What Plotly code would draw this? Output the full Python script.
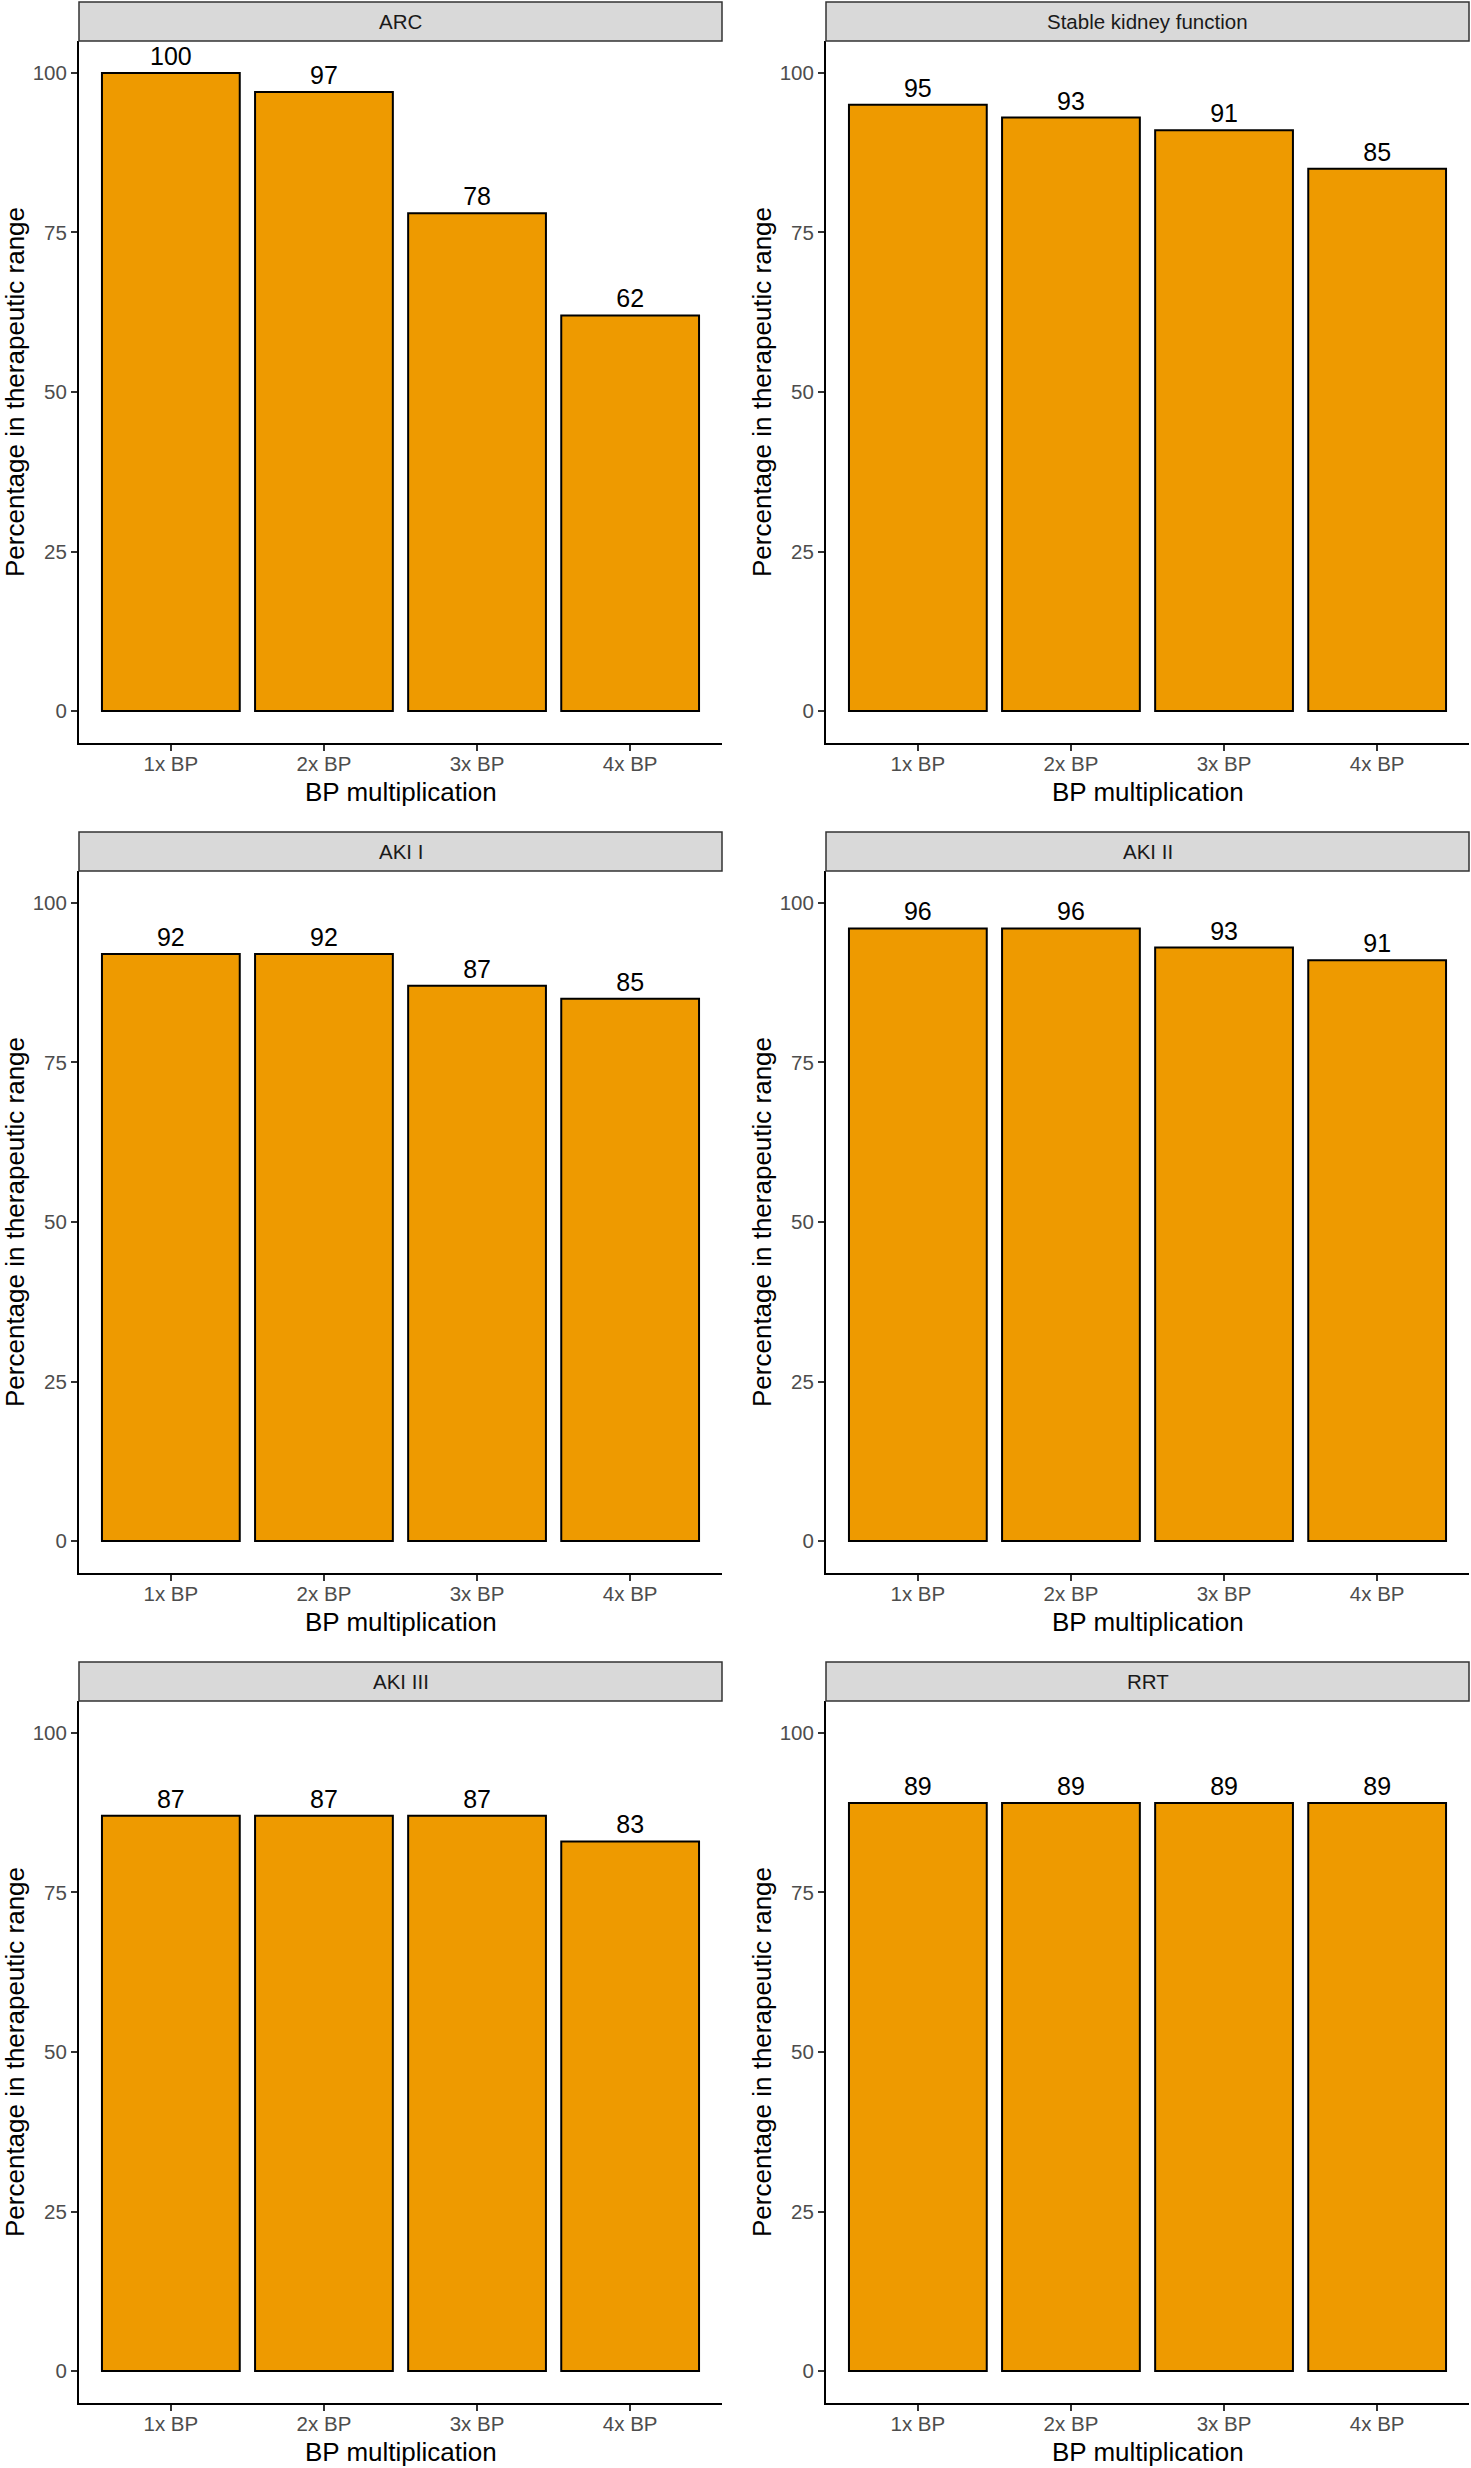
import plotly.graph_objects as go

W, H = 1471, 2468

categories = ["1x BP", "2x BP", "3x BP", "4x BP"]
panel_titles = ["ARC", "Stable kidney function", "AKI I", "AKI II", "AKI III", "RRT"]
arc = [100, 97, 78, 62]
stable = [95, 93, 91, 85]
aki1 = [92, 92, 87, 85]
aki2 = [96, 96, 93, 91]
aki3 = [87, 87, 87, 83]
rrt = [89, 89, 89, 89]
y_ticks = [0, 25, 50, 75, 100]
x_title = "BP multiplication"
y_title = "Percentage in therapeutic range"

series = [arc, stable, aki1, aki2, aki3, rrt]

FONT = "Liberation Sans, Arial, sans-serif"
BAR_FILL = "#EE9A00"

col_px = [(79, 722), (826, 1469)]
row_top0, row_bot0, strip_top0 = 41, 743, 2
row_step = 830


def px(x):
    return x / W


def py(y):
    return 1 - y / H


fig = go.Figure()
layout = dict(
    width=W, height=H,
    margin=dict(l=0, r=0, t=0, b=0),
    paper_bgcolor="white", plot_bgcolor="white",
    showlegend=False,
    font=dict(family=FONT),
)
shapes = []
annotations = []

for i, (title, vals) in enumerate(zip(panel_titles, series)):
    r, c = divmod(i, 2)
    L, R = col_px[c]
    top = row_top0 + r * row_step
    bot = row_bot0 + r * row_step
    stop = strip_top0 + r * row_step
    xa = "x" if i == 0 else f"x{i+1}"
    ya = "y" if i == 0 else f"y{i+1}"
    fig.add_trace(go.Bar(
        x=categories, y=vals, xaxis=xa, yaxis=ya,
        width=0.9,
        marker=dict(color=BAR_FILL, line=dict(color="black", width=2)),
        text=[str(v) for v in vals], textposition="outside",
        textfont=dict(size=25, color="black", family=FONT),
        constraintext="none", cliponaxis=False,
        hoverinfo="skip",
    ))
    xkey = "xaxis" if i == 0 else f"xaxis{i+1}"
    ykey = "yaxis" if i == 0 else f"yaxis{i+1}"
    layout[xkey] = dict(
        domain=[px(L), px(R)], anchor=ya,
        type="category", categoryorder="array", categoryarray=categories,
        range=[-0.6, 3.6], showgrid=False, zeroline=False,
        showline=True, linecolor="black", linewidth=2,
        ticks="outside", ticklen=6, tickwidth=2, tickcolor="#333333",
        ticklabelstandoff=-5,
        tickfont=dict(size=20.5, color="#4D4D4D", family=FONT),
        fixedrange=True,
    )
    layout[ykey] = dict(
        domain=[py(bot), py(top)], anchor=xa,
        range=[-5, 105], tickvals=y_ticks, ticktext=[str(t) for t in y_ticks],
        showgrid=False, zeroline=False,
        showline=True, linecolor="black", linewidth=2,
        ticks="outside", ticklen=6, tickwidth=2, tickcolor="#333333",
        tickfont=dict(size=20.5, color="#4D4D4D", family=FONT),
        fixedrange=True,
    )
    # strip
    shapes.append(dict(
        type="rect", xref="paper", yref="paper",
        x0=px(L), x1=px(R), y0=py(top), y1=py(stop),
        fillcolor="#D9D9D9", line=dict(color="#333333", width=1.5), layer="above",
    ))
    annotations.append(dict(
        text=title, xref="paper", yref="paper",
        x=px((L + R) / 2), y=py((stop + top) / 2),
        xanchor="center", yanchor="middle", showarrow=False,
        font=dict(size=20.5, color="#1A1A1A", family=FONT),
    ))
    # x title
    annotations.append(dict(
        text=x_title, xref="paper", yref="paper",
        x=px((L + R) / 2), y=py(bot + 49),
        xanchor="center", yanchor="middle", showarrow=False,
        font=dict(size=26, color="black", family=FONT),
    ))
    # y title
    annotations.append(dict(
        text=y_title, xref="paper", yref="paper",
        x=px(L - 64), y=py((top + bot) / 2),
        xanchor="center", yanchor="middle", showarrow=False, textangle=-90,
        font=dict(size=26, color="black", family=FONT),
    ))

layout["shapes"] = shapes
layout["annotations"] = annotations
fig.update_layout(**layout)
fig.write_html(
    "out.html",
    config={"displayModeBar": False},
    post_script="document.body.style.margin='0px';document.body.style.padding='0px';",
)
